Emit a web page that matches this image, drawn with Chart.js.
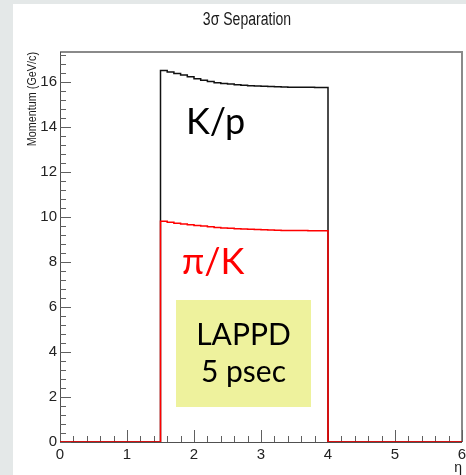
<!DOCTYPE html>
<html>
<head>
<meta charset="utf-8">
<script src="https://cdn.jsdelivr.net/npm/chart.js@4/dist/chart.umd.min.js"></script>
<style>
  html, body { margin: 0; padding: 0; background: #e4e8e8; width: 466px; height: 475px; overflow: hidden; }
  #sheet { position: absolute; left: 13px; top: 4px; width: 453px; height: 471px; background: #ffffff; }
  canvas { display: block; }
</style>
</head>
<body>
<div id="sheet"><canvas id="sep" width="453" height="471"></canvas></div>
<script>
// Lower edges of the eta bins (width 0.1) covered by the detector
const etaBinLow = [1.5, 1.6, 1.7, 1.8, 1.9, 2.0, 2.1, 2.2, 2.3, 2.4, 2.5, 2.6, 2.7,
                   2.8, 2.9, 3.0, 3.1, 3.2, 3.3, 3.4, 3.5, 3.6, 3.7, 3.8, 3.9];
const etaBinEnd = 4.0;
const etaRange = [0, 6];

// 3 sigma separation limit (GeV/c) for K/p
const kpMomentum = [16.50, 16.44, 16.37, 16.30, 16.22, 16.14, 16.07, 16.01, 15.96, 15.93,
                    15.90, 15.87, 15.85, 15.83, 15.81, 15.80, 15.79, 15.78, 15.77, 15.76,
                    15.76, 15.76, 15.76, 15.75, 15.75];
// 3 sigma separation limit (GeV/c) for pi/K
const piKMomentum = [9.81, 9.76, 9.72, 9.68, 9.65, 9.62, 9.59, 9.56, 9.53, 9.51,
                     9.49, 9.47, 9.46, 9.45, 9.44, 9.43, 9.42, 9.41, 9.40, 9.40,
                     9.39, 9.39, 9.38, 9.38, 9.38];

const yAxisMax = 17.325;        // histogram maximum times 1.05
const yMajorTicks = [0, 2, 4, 6, 8, 10, 12, 14, 16];
const xMajorTicks = [0, 1, 2, 3, 4, 5, 6];

// Step outline of a histogram: empty outside the filled bins
function histogramPoints(values) {
  const pts = [{ x: etaRange[0], y: 0 }];
  etaBinLow.forEach((x, i) => pts.push({ x: x, y: values[i] }));
  pts.push({ x: etaBinEnd, y: 0 });
  pts.push({ x: etaRange[1], y: 0 });
  return pts;
}

const SANS = '"Liberation Sans", Arial, Helvetica, sans-serif';
const CALLOUT = 'Lato, "Open Sans", sans-serif';

// Frame and inward-pointing ticks in the usual histogram style
const framePlugin = {
  id: 'frame',
  beforeDatasetsDraw(chart) {
    const { ctx, chartArea: a, scales } = chart;
    const xs = scales.x, ys = scales.y;
    ctx.save();
    // top and right frame
    ctx.strokeStyle = '#8a8a8a';
    ctx.lineWidth = 2;
    ctx.beginPath();
    ctx.moveTo(a.left, a.top);
    ctx.lineTo(a.right, a.top);
    ctx.lineTo(a.right, a.bottom);
    ctx.stroke();
    // axes
    ctx.strokeStyle = '#505050';
    ctx.lineWidth = 1;
    ctx.beginPath();
    ctx.moveTo(a.left + 0.5, a.top);
    ctx.lineTo(a.left + 0.5, a.bottom + 0.5);
    ctx.lineTo(a.right, a.bottom + 0.5);
    ctx.stroke();
    // ticks
    ctx.strokeStyle = '#606060';
    ctx.beginPath();
    for (let k = 0; k <= 43; k++) {
      const v = k * 0.4;
      if (v > yAxisMax) break;
      const y = Math.round(ys.getPixelForValue(v)) + 0.5;
      const len = (k % 5 === 0) ? 11 : 6;
      ctx.moveTo(a.left, y);
      ctx.lineTo(a.left + len, y);
    }
    for (let k = 0; k <= 30; k++) {
      const v = k * 0.2;
      const x = Math.round(xs.getPixelForValue(v)) + 0.5;
      const len = (k % 5 === 0) ? 12 : 6;
      ctx.moveTo(x, a.bottom);
      ctx.lineTo(x, a.bottom - len);
    }
    ctx.stroke();
    ctx.restore();
  },
  afterDraw(chart) {
    const { ctx, chartArea: a } = chart;
    ctx.save();
    // title, in a condensed face
    ctx.save();
    ctx.translate(234, 16);
    ctx.scale(0.78, 1);
    ctx.fillStyle = '#1a1a1a';
    ctx.font = '18px ' + SANS;
    ctx.textAlign = 'center';
    ctx.textBaseline = 'middle';
    ctx.fillText('3\u03c3 Separation', 0, 0);
    ctx.restore();
    // y axis title
    ctx.save();
    ctx.translate(20, a.top);
    ctx.rotate(-Math.PI / 2);
    ctx.scale(0.9, 1);
    ctx.fillStyle = '#1a1a1a';
    ctx.font = '12px ' + SANS;
    ctx.textAlign = 'right';
    ctx.textBaseline = 'middle';
    ctx.fillText('Momentum (GeV/c)', 0, 0);
    ctx.restore();
    // x axis title
    ctx.fillStyle = '#1a1a1a';
    ctx.font = '14px ' + SANS;
    ctx.textAlign = 'right';
    ctx.textBaseline = 'middle';
    ctx.fillText('\u03b7', a.right, 464);
    // callouts
    ctx.textAlign = 'left';
    ctx.textBaseline = 'alphabetic';
    ctx.font = '36px ' + CALLOUT;
    ctx.fillStyle = '#000000';
    ctx.fillText('K/p', 173, 130);
    ctx.fillStyle = '#ff0000';
    ctx.fillText('\u03c0/K', 169, 270);
    // LAPPD box
    ctx.fillStyle = '#eef29d';
    ctx.fillRect(163, 296, 135, 107);
    ctx.fillStyle = '#000000';
    ctx.font = '30px ' + CALLOUT;
    ctx.textAlign = 'center';
    ctx.fillText('LAPPD', 230.5, 341);
    ctx.fillText('5 psec', 230.5, 378);
    ctx.restore();
  }
};

new Chart(document.getElementById('sep'), {
  type: 'line',
  data: {
    datasets: [
      {
        label: '\u03c0/K',
        data: histogramPoints(piKMomentum),
        borderColor: '#ff0000',
        borderWidth: 1.5,
        stepped: 'before',
        pointRadius: 0,
        fill: false,
        order: 0
      },
      {
        label: 'K/p',
        data: histogramPoints(kpMomentum),
        borderColor: '#111111',
        borderWidth: 1.5,
        stepped: 'before',
        pointRadius: 0,
        fill: false,
        order: 1
      }
    ]
  },
  options: {
    responsive: false,
    animation: false,
    events: [],
    layout: { padding: { top: 48, right: 4, left: 0, bottom: 0 } },
    plugins: { legend: { display: false }, title: { display: false }, tooltip: { enabled: false } },
    scales: {
      x: {
        type: 'linear',
        min: etaRange[0],
        max: etaRange[1],
        grid: { display: false, drawTicks: false },
        border: { display: false },
        afterFit(s) { s.height = 33; s.paddingLeft = 0; s.paddingRight = 0; },
        afterBuildTicks(s) { s.ticks = xMajorTicks.map(v => ({ value: v })); },
        ticks: {
          padding: 4,
          maxRotation: 0,
          autoSkip: false,
          color: '#222222',
          font: { family: SANS, size: 15 },
          callback: v => String(v)
        }
      },
      y: {
        type: 'linear',
        min: 0,
        max: yAxisMax,
        grid: { display: false, drawTicks: false },
        border: { display: false },
        afterFit(s) { s.width = 47; s.paddingTop = 0; s.paddingBottom = 0; },
        afterBuildTicks(s) { s.ticks = yMajorTicks.map(v => ({ value: v })); },
        ticks: {
          padding: 3,
          autoSkip: false,
          color: '#222222',
          font: { family: SANS, size: 15 },
          callback: v => String(v)
        }
      }
    }
  },
  plugins: [framePlugin]
});
</script>
</body>
</html>
